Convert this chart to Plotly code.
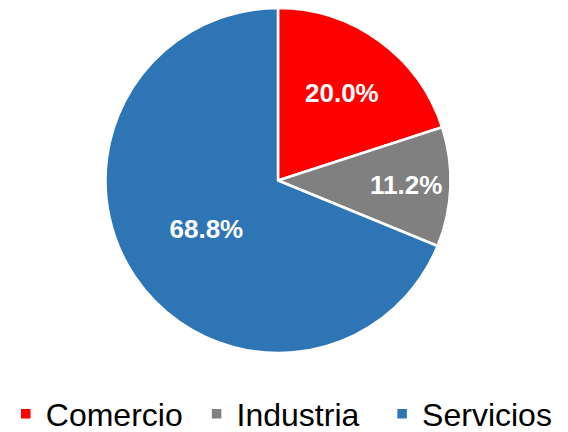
import plotly.graph_objects as go

labels = ["Comercio\u00a0", "Industria\u00a0\u00a0", "Servicios"]
values = [20.0, 11.2, 68.8]
colors = ["#FF0000", "#808080", "#2E75B6"]

W, H = 568, 432
OFF = 8  # page body margin
cx, cy, r = 278 - OFF, 180 - OFF, 173
fig = go.Figure(go.Pie(
    labels=labels, values=values, sort=False, direction="clockwise", rotation=0,
    marker=dict(colors=colors, line=dict(color="white", width=2.5)),
    texttemplate="%{value:.1f}%", textposition="inside", insidetextorientation="horizontal",
    textfont=dict(family="Liberation Sans, Arial", size=26, color="white", weight="bold"),
    domain=dict(x=[(cx - r) / W, (cx + r) / W], y=[(H - cy - r) / H, 1]),
    hoverinfo="skip",
))
fig.update_layout(
    width=W, height=H, margin=dict(l=0, r=0, t=0, b=0, autoexpand=False),
    paper_bgcolor="white", plot_bgcolor="white",
    showlegend=True,
    legend=dict(orientation="h", x=0.482, xanchor="center", y=(H - (414 - OFF)) / H, yanchor="middle",
                font=dict(family="Liberation Sans, Arial", size=32, color="black"),
                traceorder="normal"),
)
fig.write_html("out.html")
